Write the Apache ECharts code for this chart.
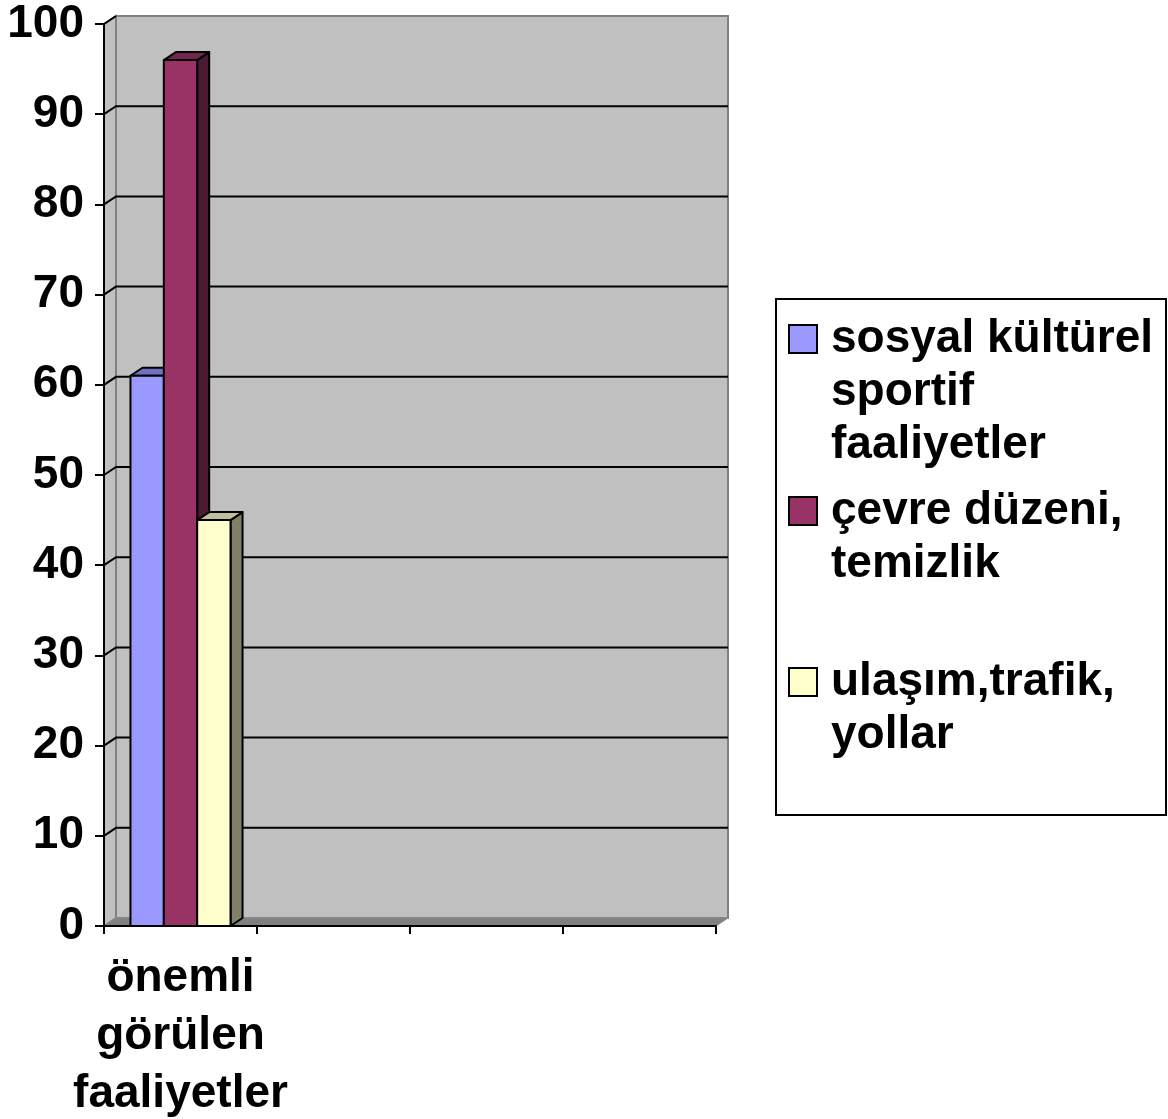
<!DOCTYPE html>
<html>
<head>
<meta charset="utf-8">
<title>önemli görülen faaliyetler</title>
<script src="https://cdn.jsdelivr.net/npm/echarts@6/dist/echarts.min.js"></script>
<style>
html, body {
	margin: 0;
	padding: 0;
	background: #ffffff;
}

#main {
	width: 1168px;
	height: 1119px;
}
</style>
</head>
<body>
	<div id="main"></div>
	<script type="text/javascript">
	// 数据
	var categories = [ 'önemli\ngörülen\nfaaliyetler', '', '', '' ];
	var seriesNames = [ 'sosyal kültürel\nsportif\nfaaliyetler', 'çevre düzeni,\ntemizlik', 'ulaşım,trafik,\nyollar' ];
	var sosyalData = [ 61 ];
	var cevreData = [ 96 ];
	var ulasimData = [ 45 ];
	var yMin = 0, yMax = 100, yStep = 10;

	// 颜色: 正面, 顶面, 侧面
	var boxColors = [
		[ '#9999FF', '#7070C0', '#4D4D80' ],
		[ '#993366', '#73264D', '#4D1A33' ],
		[ '#FFFFCC', '#BFBF99', '#808066' ]
	];

	var font = "'Liberation Sans', Arial, sans-serif";
	var dx = 12, dy = -8; // 3D 深度偏移

	function renderWalls(params, api) {
		var cs = params.coordSys;
		var x = cs.x, y = cs.y, w = cs.width, h = cs.height;
		var children = [];
		// 左侧墙
		children.push({
			type : 'polygon',
			shape : { points : [ [ x, y ], [ x + dx, y + dy ], [ x + dx, y + h + dy ], [ x, y + h ] ] },
			style : { fill : '#C0C0C0', stroke : '#808080', lineWidth : 2 }
		});
		// 背面墙
		children.push({
			type : 'rect',
			shape : { x : x + dx, y : y + dy, width : w, height : h },
			style : { fill : '#C0C0C0', stroke : '#808080', lineWidth : 2 }
		});
		// 底面
		children.push({
			type : 'polygon',
			shape : { points : [ [ x, y + h ], [ x + dx, y + h + dy ], [ x + w + dx, y + h + dy ], [ x + w, y + h ] ] },
			style : { fill : '#808080', stroke : '#8C8C8C', lineWidth : 1 }
		});
		// 网格线
		for (var v = yMin + yStep; v <= yMax; v += yStep) {
			var yv = api.coord([ 0, v ])[1];
			var pts = [ [ x, yv ], [ x + dx, yv + dy ] ];
			if (v < yMax) {
				pts.push([ x + w + dx, yv + dy ]);
			}
			children.push({
				type : 'polyline',
				shape : { points : pts },
				style : { stroke : '#000000', lineWidth : 2, fill : null }
			});
		}
		return { type : 'group', children : children };
	}

	function makeBox(idx) {
		return function(params, api) {
			var cat = api.value(0);
			var base = api.coord([ cat, 0 ]);
			var top = api.coord([ cat, api.value(1) ]);
			var band = api.size([ 1, 0 ])[0];
			var bw = band * 0.218;
			var x0 = top[0] - 1.5 * bw + idx * bw;
			var x1 = x0 + bw;
			var c = boxColors[idx];
			var line = { stroke : '#000000', lineWidth : 2, lineJoin : 'round' };
			return {
				type : 'group',
				children : [ {
					type : 'polygon',
					shape : { points : [ [ x1, top[1] ], [ x1 + dx, top[1] + dy ], [ x1 + dx, base[1] + dy ], [ x1, base[1] ] ] },
					style : echarts.util.extend({ fill : c[2] }, line)
				}, {
					type : 'polygon',
					shape : { points : [ [ x0, top[1] ], [ x0 + dx, top[1] + dy ], [ x1 + dx, top[1] + dy ], [ x1, top[1] ] ] },
					style : echarts.util.extend({ fill : c[1] }, line)
				}, {
					type : 'rect',
					shape : { x : x0, y : top[1], width : bw, height : base[1] - top[1] },
					style : echarts.util.extend({ fill : c[0] }, line)
				} ]
			};
		};
	}

	function toData(arr) {
		var out = [];
		for (var i = 0; i < arr.length; i++) {
			out.push([ i, arr[i] ]);
		}
		return out;
	}

	var legendText = {
		fontFamily : font,
		fontSize : 46,
		fontWeight : 'bold',
		color : '#000000',
		lineHeight : 53,
		padding : [ 0, 0, 0, 9 ]
	};

	// 图例文字第一行对齐图标: 前面补空行
	function makeLegend(name, iconY) {
		var lines = name.split('\n').length;
		var pad = '';
		for (var i = 1; i < lines; i++) {
			pad += '\n';
		}
		return {
			data : [ name ],
			left : 788,
			top : iconY - (2 * lines - 1) * 53 / 2,
			padding : 0,
			itemWidth : 28,
			itemHeight : 28,
			icon : 'rect',
			selectedMode : false,
			formatter : function(n) {
				return pad + n;
			},
			textStyle : legendText
		};
	}

	var myChart = echarts.init(document.getElementById('main'));
	var option = {
		animation : false,
		backgroundColor : '#ffffff',
		textStyle : { fontFamily : font },
		grid : {
			left : 104,
			top : 24,
			width : 612,
			height : 902,
			containLabel : false,
			outerBoundsMode : 'none'
		},
		graphic : [ {
			type : 'rect',
			left : 775,
			top : 298,
			shape : { width : 390, height : 516 },
			style : { fill : '#ffffff', stroke : '#000000', lineWidth : 2 }
		} ],
		legend : [
			makeLegend(seriesNames[0], 339),
			makeLegend(seriesNames[1], 511),
			makeLegend(seriesNames[2], 682)
		],
		xAxis : {
			type : 'category',
			data : categories,
			z : 10,
			axisLine : { lineStyle : { color : '#000000', width : 2 } },
			axisTick : { show : true, length : 8, lineStyle : { color : '#000000', width : 2 } },
			axisLabel : {
				interval : 0,
				margin : 23,
				color : '#000000',
				fontFamily : font,
				fontSize : 46,
				fontWeight : 'bold',
				lineHeight : 58,
				align : 'center'
			},
			splitLine : { show : false }
		},
		yAxis : {
			type : 'value',
			min : yMin,
			max : yMax,
			interval : yStep,
			z : 10,
			axisLine : { show : true, lineStyle : { color : '#000000', width : 2 } },
			axisTick : { show : true, length : 9, lineStyle : { color : '#000000', width : 2 } },
			axisLabel : {
				margin : 20,
				color : '#000000',
				fontFamily : font,
				fontSize : 46,
				fontWeight : 'bold'
			},
			splitLine : { show : false }
		},
		series : [ {
			name : 'walls',
			type : 'custom',
			silent : true,
			z : 1,
			renderItem : renderWalls,
			data : [ [ 0, 0 ] ]
		}, {
			name : seriesNames[0],
			type : 'custom',
			z : 2,
			itemStyle : { color : boxColors[0][0], borderColor : '#000000', borderWidth : 2 },
			renderItem : makeBox(0),
			data : toData(sosyalData)
		}, {
			name : seriesNames[1],
			type : 'custom',
			z : 3,
			itemStyle : { color : boxColors[1][0], borderColor : '#000000', borderWidth : 2 },
			renderItem : makeBox(1),
			data : toData(cevreData)
		}, {
			name : seriesNames[2],
			type : 'custom',
			z : 4,
			itemStyle : { color : boxColors[2][0], borderColor : '#000000', borderWidth : 2 },
			renderItem : makeBox(2),
			data : toData(ulasimData)
		} ]
	};
	myChart.setOption(option);
	</script>
</body>
</html>
